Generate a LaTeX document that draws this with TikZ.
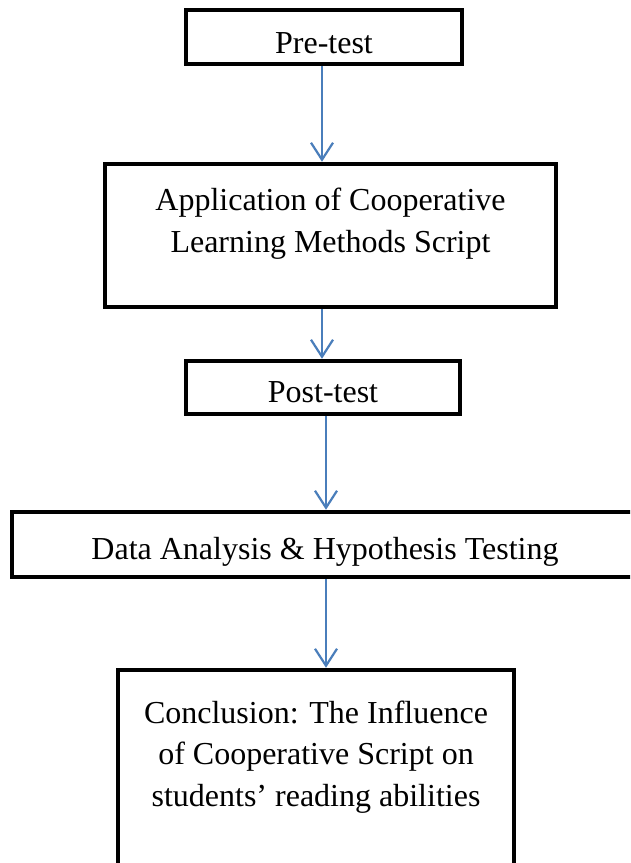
\documentclass[tikz,border=0pt]{standalone}
\usepackage{fontspec}
\setmainfont{Liberation Serif}
\usetikzlibrary{arrows.meta}
\definecolor{arrowblue}{RGB}{74,126,187}
\begin{document}
\begin{tikzpicture}[x=1pt,y=-1pt,
  box/.style={draw=black,line width=4.5pt,rectangle,inner sep=0pt},
  lbl/.style={anchor=base,inner sep=0pt,align=center,font=\fontsize{32}{41.5}\selectfont},
  flow/.style={draw=arrowblue,line width=2.2pt,-{Straight Barb[length=17pt,width=22pt,line width=2.2pt]}}]
\useasboundingbox (0,0) rectangle (630,863);
\clip (0,0) rectangle (630,863);
\fill[white] (0,0) rectangle (630,863);
% boxes
\node[box,minimum width=276pt,minimum height=54pt] (pre) at (324,37) {};
\node[box,minimum width=451pt,minimum height=143pt] (app) at (330.5,235.5) {};
\node[box,minimum width=274pt,minimum height=53pt] (post) at (323,387.5) {};
\node[box,minimum width=628pt,minimum height=65pt] (data) at (326,544.5) {};
\node[box,minimum width=396pt,minimum height=220pt] (concl) at (316,780) {};
% labels (base anchor = baseline of last line)
\node[lbl] (preT) at (324,53) {Pre-test};
\node[lbl] (appT) at (330.5,252) {Application of Cooperative\\Learning Methods Script};
\node[lbl] (postT) at (323,402) {Post-test};
\node[lbl] (dataT) at (325,559) {Data Analysis \& Hypothesis Testing};
\node[lbl] (conclT) at (316,806) {Conclusion: The Influence\\of Cooperative Script on\\students’ reading abilities};
% arrow columns
\coordinate (c1) at (322,0);
\coordinate (c2) at (322,0);
\coordinate (c3) at (326,0);
\coordinate (c4) at (326,0);
\draw[flow] (pre.south -| c1) -- (app.north -| c1);
\draw[flow] (app.south -| c2) -- (post.north -| c2);
\draw[flow] (post.south -| c3) -- (data.north -| c3);
\draw[flow] (data.south -| c4) -- (concl.north -| c4);
\end{tikzpicture}
\end{document}
